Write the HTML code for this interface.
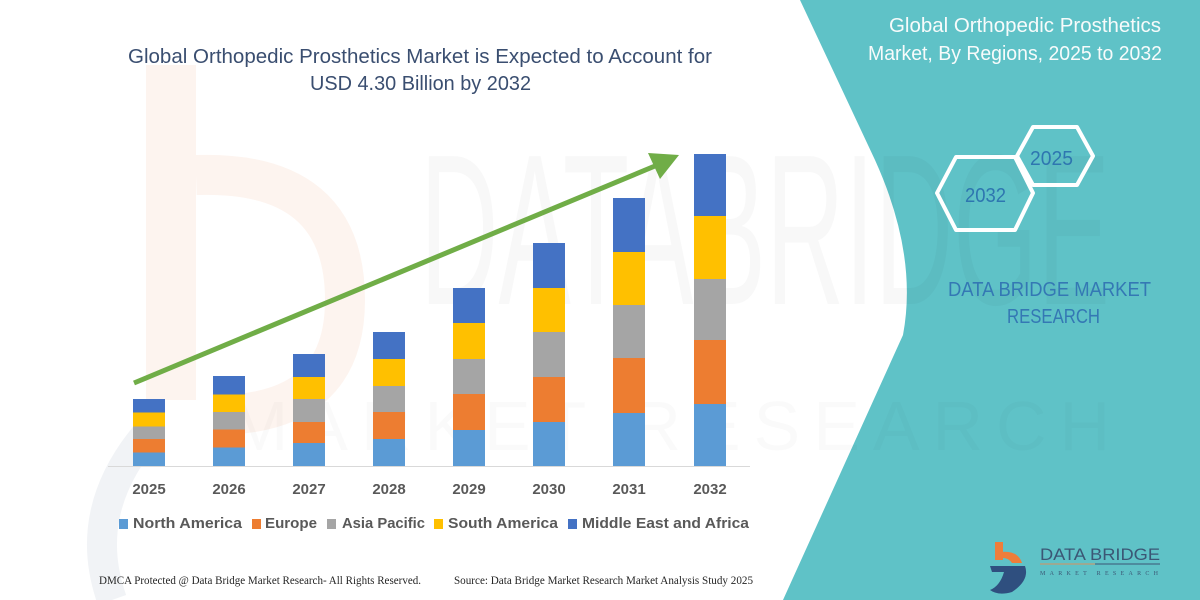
<!DOCTYPE html>
<html>
<head>
<meta charset="utf-8">
<style>
  html,body{margin:0;padding:0;background:#fff;}
  body{width:1200px;height:600px;overflow:hidden;}
  svg{display:block;}
  .yr{font-family:"Liberation Sans",sans-serif;font-weight:bold;font-size:15px;fill:#595959;}
  .lg{font-family:"Liberation Sans",sans-serif;font-weight:bold;font-size:15px;fill:#595959;}
  .ft{font-family:"Liberation Serif",serif;font-size:12px;fill:#262626;}
</style>
</head>
<body>
<svg width="1200" height="600" viewBox="0 0 1200 600" xmlns="http://www.w3.org/2000/svg">
  <rect x="0" y="0" width="1200" height="600" fill="#ffffff"/>

  <!-- faint watermark logo shapes -->
  <rect x="146" y="65" width="50" height="335" fill="#fdf4ef"/>
  <path d="M196,175 Q345,170 345,300 Q345,415 215,415" fill="none" stroke="#fdf4ef" stroke-width="40"/>
  <path d="M150,430 Q80,510 112,600" fill="none" stroke="#f1f3f6" stroke-width="30"/>

  <!-- teal panel -->
  <path d="M800,0 L875,160 Q918,255 903,335 L783,600 L1200,600 L1200,0 Z" fill="#5fc2c7"/>

  <!-- faint big watermark text -->
  <text x="420" y="304" font-family="Liberation Sans, sans-serif" font-size="215" fill="#000" fill-opacity="0.028" textLength="690" lengthAdjust="spacingAndGlyphs">DATABRIDGE</text>
  <text x="230" y="450" font-family="Liberation Sans, sans-serif" font-size="70" fill="#000" fill-opacity="0.018" textLength="880" lengthAdjust="spacing">MARKET RESEARCH</text>

  <!-- title -->
  <text x="128" y="63" font-family="Liberation Sans, sans-serif" font-size="20" fill="#3a4e70" textLength="584" lengthAdjust="spacingAndGlyphs">Global Orthopedic Prosthetics Market is Expected to Account for</text>
  <text x="310" y="90" font-family="Liberation Sans, sans-serif" font-size="20" fill="#3a4e70" textLength="221" lengthAdjust="spacingAndGlyphs">USD 4.30 Billion by 2032</text>

  <!-- axis line -->
  <line x1="108" y1="466.5" x2="750" y2="466.5" stroke="#d9d9d9" stroke-width="1"/>

  <!-- bars: segments top->bottom: MEA, SA, AP, EU, NA -->
  <g>
    <rect x="133" y="399" width="32" height="13.5" fill="#4472c4"/>
    <rect x="133" y="412.5" width="32" height="14" fill="#ffc000"/>
    <rect x="133" y="426.5" width="32" height="12.5" fill="#a5a5a5"/>
    <rect x="133" y="439" width="32" height="13.5" fill="#ed7d31"/>
    <rect x="133" y="452.5" width="32" height="13.5" fill="#5b9bd5"/>

    <rect x="213" y="376" width="32" height="18.5" fill="#4472c4"/>
    <rect x="213" y="394.5" width="32" height="17.5" fill="#ffc000"/>
    <rect x="213" y="412" width="32" height="17.5" fill="#a5a5a5"/>
    <rect x="213" y="429.5" width="32" height="18" fill="#ed7d31"/>
    <rect x="213" y="447.5" width="32" height="18.5" fill="#5b9bd5"/>

    <rect x="293" y="354" width="32" height="23" fill="#4472c4"/>
    <rect x="293" y="377" width="32" height="22" fill="#ffc000"/>
    <rect x="293" y="399" width="32" height="23" fill="#a5a5a5"/>
    <rect x="293" y="422" width="32" height="21" fill="#ed7d31"/>
    <rect x="293" y="443" width="32" height="23" fill="#5b9bd5"/>

    <rect x="373" y="332" width="32" height="27" fill="#4472c4"/>
    <rect x="373" y="359" width="32" height="27" fill="#ffc000"/>
    <rect x="373" y="386" width="32" height="26" fill="#a5a5a5"/>
    <rect x="373" y="412" width="32" height="27" fill="#ed7d31"/>
    <rect x="373" y="439" width="32" height="27" fill="#5b9bd5"/>

    <rect x="453" y="288" width="32" height="35" fill="#4472c4"/>
    <rect x="453" y="323" width="32" height="36" fill="#ffc000"/>
    <rect x="453" y="359" width="32" height="35" fill="#a5a5a5"/>
    <rect x="453" y="394" width="32" height="36" fill="#ed7d31"/>
    <rect x="453" y="430" width="32" height="36" fill="#5b9bd5"/>

    <rect x="533" y="243" width="32" height="45" fill="#4472c4"/>
    <rect x="533" y="288" width="32" height="44" fill="#ffc000"/>
    <rect x="533" y="332" width="32" height="45" fill="#a5a5a5"/>
    <rect x="533" y="377" width="32" height="45" fill="#ed7d31"/>
    <rect x="533" y="422" width="32" height="44" fill="#5b9bd5"/>

    <rect x="613" y="198" width="32" height="54" fill="#4472c4"/>
    <rect x="613" y="252" width="32" height="53" fill="#ffc000"/>
    <rect x="613" y="305" width="32" height="53" fill="#a5a5a5"/>
    <rect x="613" y="358" width="32" height="55" fill="#ed7d31"/>
    <rect x="613" y="413" width="32" height="53" fill="#5b9bd5"/>

    <rect x="694" y="154" width="32" height="62" fill="#4472c4"/>
    <rect x="694" y="216" width="32" height="63" fill="#ffc000"/>
    <rect x="694" y="279" width="32" height="61" fill="#a5a5a5"/>
    <rect x="694" y="340" width="32" height="64" fill="#ed7d31"/>
    <rect x="694" y="404" width="32" height="62" fill="#5b9bd5"/>
  </g>

  <!-- green arrow -->
  <line x1="134" y1="383" x2="655" y2="166" stroke="#70ad47" stroke-width="5"/>
  <polygon points="648,153 679,155 660,179" fill="#70ad47"/>

  <!-- year labels -->
  <g class="yr" text-anchor="middle">
    <text x="149" y="494">2025</text>
    <text x="229" y="494">2026</text>
    <text x="309" y="494">2027</text>
    <text x="389" y="494">2028</text>
    <text x="469" y="494">2029</text>
    <text x="549" y="494">2030</text>
    <text x="629" y="494">2031</text>
    <text x="710" y="494">2032</text>
  </g>

  <!-- legend -->
  <rect x="119" y="519" width="9" height="10" fill="#5b9bd5"/>
  <text class="lg" x="133" y="528" textLength="109" lengthAdjust="spacingAndGlyphs">North America</text>
  <rect x="252" y="519" width="9" height="10" fill="#ed7d31"/>
  <text class="lg" x="265" y="528" textLength="52" lengthAdjust="spacingAndGlyphs">Europe</text>
  <rect x="327" y="519" width="9" height="10" fill="#a5a5a5"/>
  <text class="lg" x="342" y="528" textLength="83" lengthAdjust="spacingAndGlyphs">Asia Pacific</text>
  <rect x="434" y="519" width="9" height="10" fill="#ffc000"/>
  <text class="lg" x="448" y="528" textLength="110" lengthAdjust="spacingAndGlyphs">South America</text>
  <rect x="568" y="519" width="9" height="10" fill="#4472c4"/>
  <text class="lg" x="582" y="528" textLength="167" lengthAdjust="spacingAndGlyphs">Middle East and Africa</text>

  <!-- footer -->
  <text class="ft" x="99" y="584" textLength="322" lengthAdjust="spacingAndGlyphs">DMCA Protected @ Data Bridge Market Research-  All Rights Reserved.</text>
  <text class="ft" x="454" y="584" textLength="299" lengthAdjust="spacingAndGlyphs">Source: Data Bridge Market Research  Market Analysis Study 2025</text>

  <!-- right panel title -->
  <text x="889" y="32" font-family="Liberation Sans, sans-serif" font-size="20" fill="#f7fbfb" textLength="272" lengthAdjust="spacingAndGlyphs">Global Orthopedic Prosthetics</text>
  <text x="868" y="60" font-family="Liberation Sans, sans-serif" font-size="20" fill="#f7fbfb" textLength="294" lengthAdjust="spacingAndGlyphs">Market, By Regions, 2025 to 2032</text>

  <!-- hexagons -->
  <polygon points="1017,156 1033,127 1077,127 1093,156 1077,185 1033,185" fill="none" stroke="#ffffff" stroke-width="4" stroke-linejoin="round"/>
  <polygon points="937,193 956,157 1015,157 1033,193 1015,230 956,230" fill="none" stroke="#ffffff" stroke-width="4" stroke-linejoin="round"/>
  <text x="1030" y="165" font-family="Liberation Sans, sans-serif" font-size="20" fill="#2e76b0" textLength="43" lengthAdjust="spacingAndGlyphs">2025</text>
  <text x="965" y="202" font-family="Liberation Sans, sans-serif" font-size="20" fill="#2e76b0" textLength="41" lengthAdjust="spacingAndGlyphs">2032</text>

  <!-- DBMR text -->
  <text x="948" y="296" font-family="Liberation Sans, sans-serif" font-size="20" fill="#3478b4" textLength="203" lengthAdjust="spacingAndGlyphs">DATA BRIDGE MARKET</text>
  <text x="1007" y="323" font-family="Liberation Sans, sans-serif" font-size="20" fill="#3478b4" textLength="93" lengthAdjust="spacingAndGlyphs">RESEARCH</text>

  <!-- bottom right logo -->
  <rect x="995" y="542" width="8" height="18" fill="#ef7d3a"/>
  <path d="M1000,552 Q1018,550 1022,563 L1012,563 Q1008,557 1000,558 Z" fill="#ef7d3a"/>
  <path d="M990,566 L1025,566 Q1030,580 1012,592 Q998,596 990,590 Q1000,586 1004,572 L992,572 Z" fill="#2f4f7f"/>
  <text x="1040" y="560" font-family="Liberation Sans, sans-serif" font-size="17" fill="#3b5775" textLength="120" lengthAdjust="spacingAndGlyphs">DATA BRIDGE</text>
  <line x1="1040" y1="564" x2="1160" y2="564" stroke="#3b5775" stroke-width="1"/>
  <line x1="1040" y1="564" x2="1095" y2="564" stroke="#d9905e" stroke-width="1"/>
  <text x="1040" y="575" font-family="Liberation Serif, serif" font-size="6" fill="#3b5775" textLength="118" lengthAdjust="spacing">MARKET RESEARCH</text>
</svg>
</body>
</html>
